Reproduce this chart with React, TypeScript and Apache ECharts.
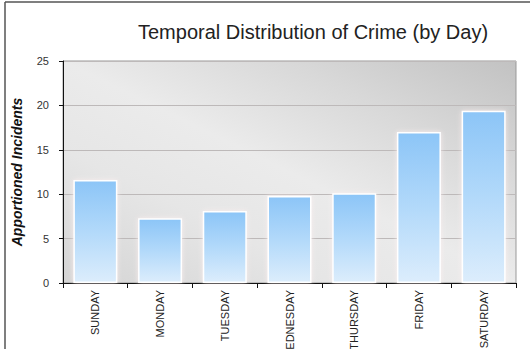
import React, { useEffect, useRef } from "react";
import * as echarts from "echarts";

const days = ["SUNDAY", "MONDAY", "TUESDAY", "WEDNESDAY", "THURSDAY", "FRIDAY", "SATURDAY"];
const incidents = [11.6, 7.3, 8.1, 9.8, 10.1, 17.0, 19.4];
const yTicks = { min: 0, max: 25, interval: 5 };
const titleText = "Temporal Distribution of Crime (by Day)";
const yAxisTitle = "Apportioned Incidents";

export default function App() {
  const ref = useRef<HTMLDivElement>(null);
  useEffect(() => {
    if (!ref.current) return;
    const chart = echarts.init(ref.current, null, { renderer: "svg" });
    chart.setOption({
      animation: false,
      backgroundColor: "#ffffff",
      title: {
        text: titleText,
        left: 133,
        top: 17,
        textStyle: {
          fontFamily: "Liberation Sans, Arial, sans-serif",
          fontSize: 20,
          fontWeight: "normal",
          color: "#222",
        },
      },
      graphic: [
        { type: "line", shape: { x1: 5, y1: 2, x2: 530, y2: 2 }, style: { stroke: "#555", lineWidth: 1.5 } },
        { type: "line", shape: { x1: 5, y1: 2, x2: 5, y2: 349 }, style: { stroke: "#555", lineWidth: 1.5 } },
      ],
      grid: {
        left: 63,
        right: 14,
        top: 61,
        bottom: 66,
        containLabel: false,
        outerBoundsMode: "none",
        show: true,
        borderColor: "#999",
        borderWidth: 1,
        backgroundColor: {
          type: "linear",
          x: 0,
          y: 1,
          x2: 1,
          y2: 0,
          colorStops: [
            { offset: 0, color: "#d4d4d4" },
            { offset: 0.3, color: "#e6e6e6" },
            { offset: 0.5, color: "#ebebeb" },
            { offset: 0.75, color: "#d8d8d8" },
            { offset: 1, color: "#c2c2c2" },
          ],
        },
      },
      xAxis: {
        type: "category",
        data: days,
        boundaryGap: true,
        axisLine: { lineStyle: { color: "#111", width: 1 } },
        axisTick: { show: true, alignWithLabel: false, length: 5, lineStyle: { color: "#111" } },
        axisLabel: {
          rotate: 90,
          interval: 0,
          margin: 7,
          fontSize: 11,
          fontFamily: "Liberation Sans, Arial, sans-serif",
          color: "#222",
        },
      },
      yAxis: {
        type: "value",
        min: yTicks.min,
        max: yTicks.max,
        interval: yTicks.interval,
        name: yAxisTitle,
        nameLocation: "middle",
        nameRotate: 90,
        nameGap: 39,
        nameTextStyle: {
          fontFamily: "Liberation Sans, Arial, sans-serif",
          fontSize: 14,
          fontWeight: "bold",
          fontStyle: "italic",
          color: "#111",
        },
        axisLine: { show: true, lineStyle: { color: "#111", width: 1 } },
        axisTick: { show: true, length: 4, lineStyle: { color: "#111" } },
        axisLabel: {
          margin: 14,
          fontSize: 11,
          fontFamily: "Liberation Sans, Arial, sans-serif",
          color: "#333",
        },
        splitLine: { show: true, lineStyle: { color: "#bdb9b9", width: 1 } },
      },
      series: [
        {
          type: "bar",
          data: incidents,
          barCategoryGap: "32%",
          itemStyle: {
            color: {
              type: "linear",
              x: 0,
              y: 0,
              x2: 0,
              y2: 1,
              colorStops: [
                { offset: 0, color: "#8cc5f7" },
                { offset: 0.5, color: "#b2d9fa" },
                { offset: 1, color: "#dcedfc" },
              ],
            },
            borderColor: "#ffffff",
            borderWidth: 1.5,
            shadowColor: "rgba(255,240,240,0.8)",
            shadowBlur: 5,
          },
        },
      ],
    });
    return () => chart.dispose();
  }, []);
  return (
    <div
      ref={ref}
      style={{ position: "fixed", left: 0, top: 0, width: 530, height: 349 }}
    />
  );
}
